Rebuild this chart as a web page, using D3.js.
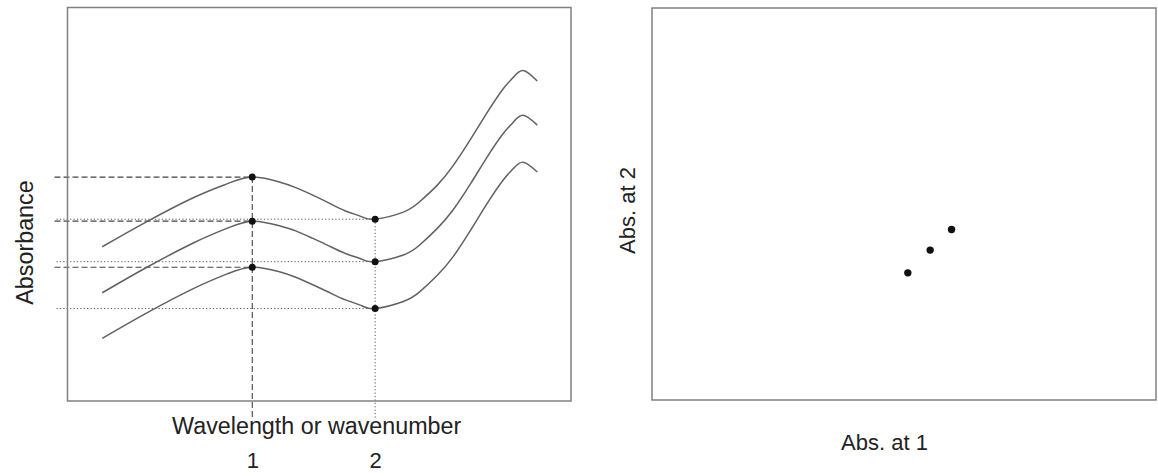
<!DOCTYPE html>
<html>
<head>
<meta charset="utf-8">
<script src="https://cdn.jsdelivr.net/npm/d3@7"></script>
<style>
  html, body { margin: 0; padding: 0; background: #fff; }
  svg { display: block; }
  text { font-family: "Liberation Sans", Arial, Helvetica, sans-serif; fill: #222; }
</style>
</head>
<body>
<svg id="chart" width="1158" height="476"></svg>
<script>
// Wavelength axis positions where the spectra were sampled
const wavePos = [6.9, 15.5, 25.4, 31.9, 36.7, 41.9, 45.2, 48.6, 51.8, 55.2, 58.5, 61.1,
                 66.7, 70.0, 73.4, 76.6, 80.0, 83.3, 86.5, 88.5, 90.5, 93.3];

// Absorbance of the three spectra (top, middle, bottom)
const specTop    = [0.392, 0.454, 0.519, 0.553, 0.569, 0.557, 0.543, 0.524, 0.504, 0.483, 0.468, 0.462,
                    0.480, 0.507, 0.548, 0.598, 0.664, 0.732, 0.793, 0.822, 0.840, 0.813];
const specMiddle = [0.275, 0.338, 0.404, 0.440, 0.457, 0.446, 0.433, 0.414, 0.395, 0.375, 0.360, 0.354,
                    0.371, 0.397, 0.438, 0.486, 0.551, 0.619, 0.679, 0.708, 0.726, 0.701];
const specBottom = [0.159, 0.222, 0.288, 0.324, 0.340, 0.329, 0.315, 0.296, 0.277, 0.257, 0.242, 0.235,
                    0.253, 0.278, 0.319, 0.367, 0.433, 0.501, 0.561, 0.590, 0.607, 0.582];

// The two selected wavelengths and their tick labels
const selectedWaves = [36.7, 61.1];
const selectedLabels = ["1", "2"];

// Absorbance read at wavelength 1 and 2 for each spectrum
const absAt1 = [0.569, 0.457, 0.340];
const absAt2 = [0.462, 0.354, 0.235];

const spectra = [specTop, specMiddle, specBottom];

const svg = d3.select("#chart");

// ---------- left panel: spectra ----------
const L = { x0: 67.5, x1: 571, y0: 7.5, y1: 401 };
const xL = d3.scaleLinear().domain([0, 100]).range([L.x0, L.x1]);
const yL = d3.scaleLinear().domain([0, 1]).range([L.y1, L.y0]);

const left = svg.append("g");

// guide lines at wavelength 1 (dashed) and wavelength 2 (dotted)
const dashStyle = "6,3";
const dotStyle = "1.2,2.2";

left.selectAll("line.h1").data(absAt1).join("line")
  .attr("x1", L.x0 - 13).attr("x2", xL(selectedWaves[0]))
  .attr("y1", d => yL(d)).attr("y2", d => yL(d))
  .attr("stroke", "#444").attr("stroke-width", 1.1)
  .attr("stroke-dasharray", dashStyle);

left.selectAll("line.h2").data(absAt2).join("line")
  .attr("x1", L.x0 - 11).attr("x2", xL(selectedWaves[1]))
  .attr("y1", d => yL(d)).attr("y2", d => yL(d))
  .attr("stroke", "#555").attr("stroke-width", 1)
  .attr("stroke-dasharray", dotStyle);

left.append("line")
  .attr("x1", xL(selectedWaves[0])).attr("x2", xL(selectedWaves[0]))
  .attr("y1", yL(d3.max(absAt1))).attr("y2", 418)
  .attr("stroke", "#444").attr("stroke-width", 1.1)
  .attr("stroke-dasharray", dashStyle);

left.append("line")
  .attr("x1", xL(selectedWaves[1])).attr("x2", xL(selectedWaves[1]))
  .attr("y1", yL(d3.max(absAt2))).attr("y2", 420)
  .attr("stroke", "#555").attr("stroke-width", 1)
  .attr("stroke-dasharray", dotStyle);

// spectra
const line = d3.line()
  .x((d, i) => xL(wavePos[i]))
  .y(d => yL(d))
  .curve(d3.curveNatural);

left.selectAll("path.spec").data(spectra).join("path")
  .attr("class", "spec")
  .attr("d", line)
  .attr("fill", "none")
  .attr("stroke", "#616161")
  .attr("stroke-width", 1.5);

// markers at the selected wavelengths
left.selectAll("circle.m1").data(absAt1).join("circle")
  .attr("cx", xL(selectedWaves[0])).attr("cy", d => yL(d)).attr("r", 3.5)
  .attr("fill", "#111");
left.selectAll("circle.m2").data(absAt2).join("circle")
  .attr("cx", xL(selectedWaves[1])).attr("cy", d => yL(d)).attr("r", 3.5)
  .attr("fill", "#111");

// frame
left.append("rect")
  .attr("x", L.x0).attr("y", L.y0)
  .attr("width", L.x1 - L.x0).attr("height", L.y1 - L.y0)
  .attr("fill", "none").attr("stroke", "#808080").attr("stroke-width", 1.5);

// wavelength tick labels
const axisL = d3.axisBottom(xL)
  .tickValues(selectedWaves)
  .tickFormat((d, i) => selectedLabels[i])
  .tickSize(0)
  .tickPadding(0);
const axG = left.append("g")
  .attr("transform", `translate(0,${L.y1 + 51})`)
  .call(axisL);
axG.select(".domain").remove();
axG.selectAll("text")
  .style("font-family", '"Liberation Sans", Arial, sans-serif')
  .style("font-size", "22px")
  .attr("fill", "#222");

left.append("text")
  .attr("x", 316.7).attr("y", 434)
  .attr("text-anchor", "middle")
  .style("font-size", "23.3px")
  .text("Wavelength or wavenumber");

left.append("text")
  .attr("transform", "translate(33,242.5) rotate(-90)")
  .attr("text-anchor", "middle")
  .style("font-size", "23.3px")
  .text("Absorbance");

// ---------- right panel: absorbance at 1 vs absorbance at 2 ----------
const R = { x0: 652, x1: 1156, y0: 8, y1: 400 };
const xR = d3.scaleLinear().domain([-1.0, 1.64]).range([R.x0, R.x1]);
const yR = d3.scaleLinear().domain([-0.43, 1.62]).range([R.y1, R.y0]);

const right = svg.append("g");

right.append("rect")
  .attr("x", R.x0).attr("y", R.y0)
  .attr("width", R.x1 - R.x0).attr("height", R.y1 - R.y0)
  .attr("fill", "none").attr("stroke", "#808080").attr("stroke-width", 1.5);

right.selectAll("circle.pt").data(d3.zip(absAt1, absAt2)).join("circle")
  .attr("cx", d => xR(d[0])).attr("cy", d => yR(d[1])).attr("r", 3.7)
  .attr("fill", "#111");

right.append("text")
  .attr("x", 884.5).attr("y", 450)
  .attr("text-anchor", "middle")
  .style("font-size", "22px")
  .text("Abs. at 1");

right.append("text")
  .attr("transform", "translate(635,210.5) rotate(-90)")
  .attr("text-anchor", "middle")
  .style("font-size", "22px")
  .text("Abs. at 2");
</script>
</body>
</html>
